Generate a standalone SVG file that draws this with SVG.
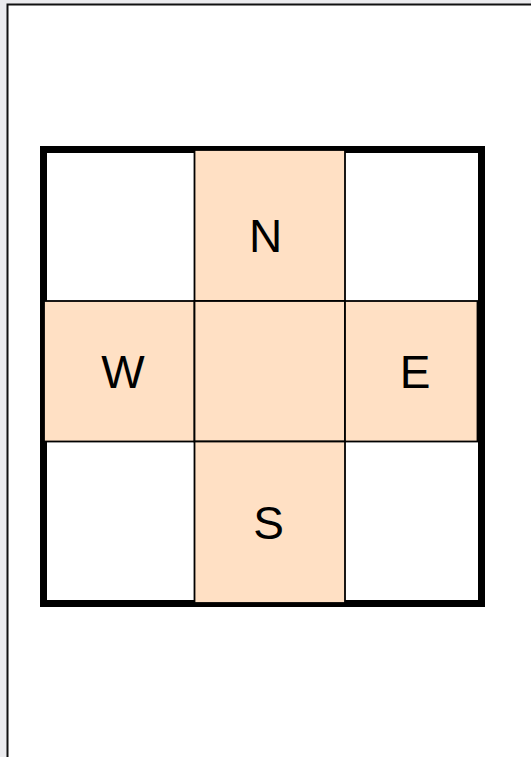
<svg xmlns="http://www.w3.org/2000/svg" width="531" height="757" viewBox="0 0 531 757">
  <style>
    .cell { fill: #ffe0c4; stroke: #000; stroke-width: 1.8; }
    .frame { fill: none; stroke: #000; stroke-width: 7; }
    .lbl { font-family: "Liberation Sans", Arial, sans-serif; font-size: 46px; fill: #000; text-anchor: middle; }
  </style>
  <rect x="0" y="0" width="531" height="757" fill="#ebebee"/>
  <rect id="page" x="7.5" y="4.5" width="540" height="770" fill="#fff" stroke="#111" stroke-width="2"/>
  <g id="frame">
    <rect class="frame" x="43.5" y="149.5" width="438" height="454"/>
  </g>
  <g id="cell-N">
    <rect class="cell" x="194.5" y="150" width="150.5" height="151"/>
    <text class="lbl" x="265.5" y="252">N</text>
  </g>
  <g id="cell-W">
    <rect class="cell" x="44" y="301" width="150.5" height="140.5"/>
    <text class="lbl" x="123" y="388">W</text>
  </g>
  <g id="cell-C">
    <rect class="cell" x="194.5" y="301" width="150.5" height="140.5"/>
  </g>
  <g id="cell-E">
    <rect class="cell" x="345" y="301" width="132.5" height="140.5"/>
    <text class="lbl" x="415" y="388">E</text>
  </g>
  <g id="cell-S">
    <rect class="cell" x="194.5" y="441.5" width="150.5" height="161.5"/>
    <text class="lbl" x="268.5" y="538.5">S</text>
  </g>
  <g id="connectors"></g>
</svg>
